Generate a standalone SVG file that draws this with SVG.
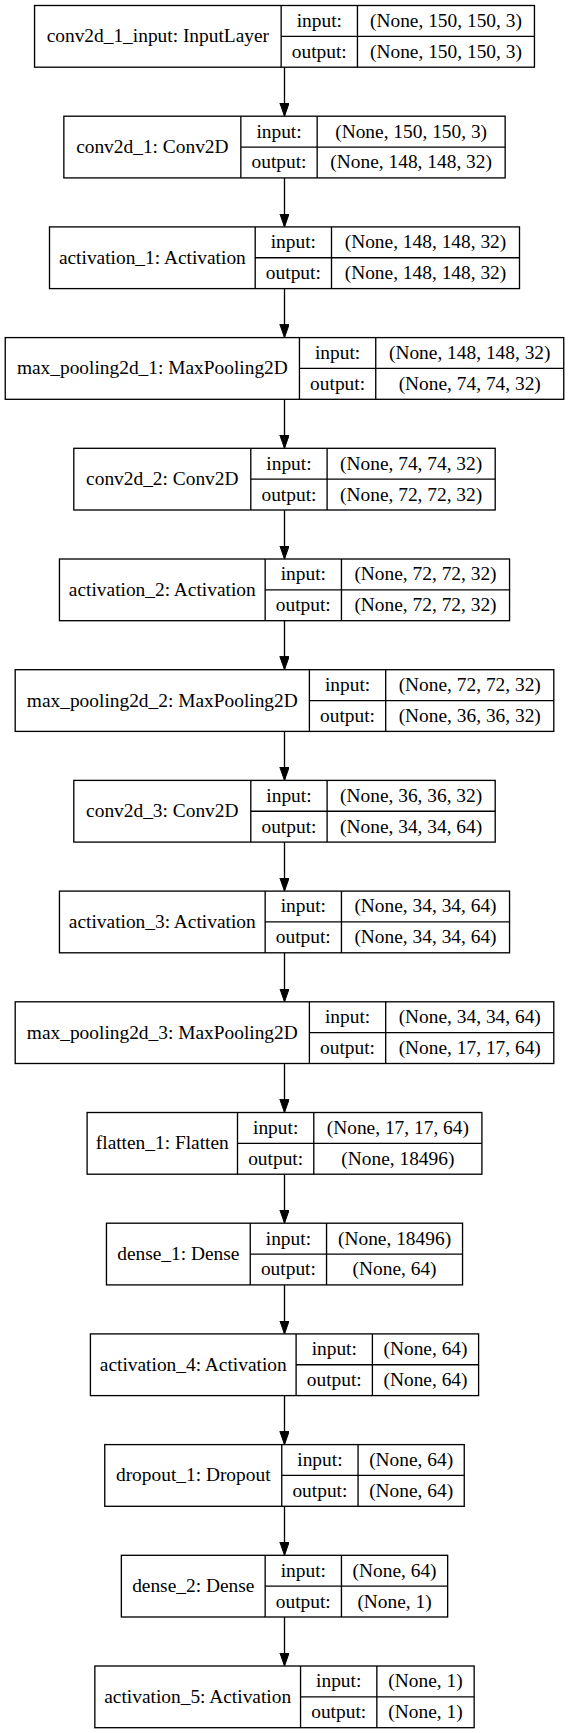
<svg xmlns="http://www.w3.org/2000/svg" width="569" height="1733" viewBox="0 0 569 1733">
<style>
.b{fill:#fff;stroke:#000;stroke-width:1.33}
.l{stroke:#000;stroke-width:1.33;fill:none}
text{font-family:"Liberation Serif","Times New Roman",serif;font-size:19.4px;fill:#000;text-anchor:middle}
.e{stroke:#000;stroke-width:1.33;fill:none;marker-end:url(#ah)}
</style>
<defs>
<marker id="ah" markerUnits="userSpaceOnUse" markerWidth="14" markerHeight="10" refX="13.3" refY="4.67" orient="auto">
<path d="M0,0 L13.3,4.67 L0,9.33 z" fill="#000" stroke="#000" stroke-width="1"/>
</marker>
</defs>
<rect width="569" height="1733" fill="#fff"/>
<g id="connectors">
<line class="e" x1="284.5" y1="67.2" x2="284.5" y2="116.2"/>
<line class="e" x1="284.5" y1="177.9" x2="284.5" y2="226.9"/>
<line class="e" x1="284.5" y1="288.6" x2="284.5" y2="337.6"/>
<line class="e" x1="284.5" y1="399.3" x2="284.5" y2="448.3"/>
<line class="e" x1="284.5" y1="510.0" x2="284.5" y2="559.0"/>
<line class="e" x1="284.5" y1="620.7" x2="284.5" y2="669.7"/>
<line class="e" x1="284.5" y1="731.4" x2="284.5" y2="780.4"/>
<line class="e" x1="284.5" y1="842.1" x2="284.5" y2="891.1"/>
<line class="e" x1="284.5" y1="952.8" x2="284.5" y2="1001.8"/>
<line class="e" x1="284.5" y1="1063.5" x2="284.5" y2="1112.5"/>
<line class="e" x1="284.5" y1="1174.2" x2="284.5" y2="1223.2"/>
<line class="e" x1="284.5" y1="1284.9" x2="284.5" y2="1333.9"/>
<line class="e" x1="284.5" y1="1395.6" x2="284.5" y2="1444.6"/>
<line class="e" x1="284.5" y1="1506.3" x2="284.5" y2="1555.3"/>
<line class="e" x1="284.5" y1="1617.0" x2="284.5" y2="1666.0"/>
</g>
<g id="conv2d_1_input" transform="translate(0,5.5)">
<rect class="b" x="34.55" y="0" width="499.9" height="61.7"/>
<path class="l" d="M281.15,0V61.7M357.45,0V61.7M281.15,30.85H534.45"/>
<text x="157.85" y="36.9">conv2d_1_input: InputLayer</text>
<text x="319.3" y="21.4">input:</text><text x="319.3" y="52.3">output:</text>
<text x="445.95" y="21.4">(None, 150, 150, 3)</text><text x="445.95" y="52.3">(None, 150, 150, 3)</text>
</g>
<g id="conv2d_1" transform="translate(0,116.2)">
<rect class="b" x="63.85" y="0" width="441.3" height="61.7"/>
<path class="l" d="M240.85,0V61.7M317.15,0V61.7M240.85,30.85H505.15"/>
<text x="152.35" y="36.9">conv2d_1: Conv2D</text>
<text x="279" y="21.4">input:</text><text x="279" y="52.3">output:</text>
<text x="411.15" y="21.4">(None, 150, 150, 3)</text><text x="411.15" y="52.3">(None, 148, 148, 32)</text>
</g>
<g id="activation_1" transform="translate(0,226.9)">
<rect class="b" x="49.5" y="0" width="470" height="61.7"/>
<path class="l" d="M255.2,0V61.7M331.5,0V61.7M255.2,30.85H519.5"/>
<text x="152.35" y="36.9">activation_1: Activation</text>
<text x="293.35" y="21.4">input:</text><text x="293.35" y="52.3">output:</text>
<text x="425.5" y="21.4">(None, 148, 148, 32)</text><text x="425.5" y="52.3">(None, 148, 148, 32)</text>
</g>
<g id="max_pooling2d_1" transform="translate(0,337.6)">
<rect class="b" x="5.25" y="0" width="558.5" height="61.7"/>
<path class="l" d="M299.45,0V61.7M375.75,0V61.7M299.45,30.85H563.75"/>
<text x="152.35" y="36.9">max_pooling2d_1: MaxPooling2D</text>
<text x="337.6" y="21.4">input:</text><text x="337.6" y="52.3">output:</text>
<text x="469.75" y="21.4">(None, 148, 148, 32)</text><text x="469.75" y="52.3">(None, 74, 74, 32)</text>
</g>
<g id="conv2d_2" transform="translate(0,448.3)">
<rect class="b" x="73.8" y="0" width="421.4" height="61.7"/>
<path class="l" d="M250.8,0V61.7M327.1,0V61.7M250.8,30.85H495.2"/>
<text x="162.3" y="36.9">conv2d_2: Conv2D</text>
<text x="288.95" y="21.4">input:</text><text x="288.95" y="52.3">output:</text>
<text x="411.15" y="21.4">(None, 74, 74, 32)</text><text x="411.15" y="52.3">(None, 72, 72, 32)</text>
</g>
<g id="activation_2" transform="translate(0,559.0)">
<rect class="b" x="59.45" y="0" width="450.1" height="61.7"/>
<path class="l" d="M265.15,0V61.7M341.45,0V61.7M265.15,30.85H509.55"/>
<text x="162.3" y="36.9">activation_2: Activation</text>
<text x="303.3" y="21.4">input:</text><text x="303.3" y="52.3">output:</text>
<text x="425.5" y="21.4">(None, 72, 72, 32)</text><text x="425.5" y="52.3">(None, 72, 72, 32)</text>
</g>
<g id="max_pooling2d_2" transform="translate(0,669.7)">
<rect class="b" x="15.2" y="0" width="538.6" height="61.7"/>
<path class="l" d="M309.4,0V61.7M385.7,0V61.7M309.4,30.85H553.8"/>
<text x="162.3" y="36.9">max_pooling2d_2: MaxPooling2D</text>
<text x="347.55" y="21.4">input:</text><text x="347.55" y="52.3">output:</text>
<text x="469.75" y="21.4">(None, 72, 72, 32)</text><text x="469.75" y="52.3">(None, 36, 36, 32)</text>
</g>
<g id="conv2d_3" transform="translate(0,780.4)">
<rect class="b" x="73.8" y="0" width="421.4" height="61.7"/>
<path class="l" d="M250.8,0V61.7M327.1,0V61.7M250.8,30.85H495.2"/>
<text x="162.3" y="36.9">conv2d_3: Conv2D</text>
<text x="288.95" y="21.4">input:</text><text x="288.95" y="52.3">output:</text>
<text x="411.15" y="21.4">(None, 36, 36, 32)</text><text x="411.15" y="52.3">(None, 34, 34, 64)</text>
</g>
<g id="activation_3" transform="translate(0,891.1)">
<rect class="b" x="59.45" y="0" width="450.1" height="61.7"/>
<path class="l" d="M265.15,0V61.7M341.45,0V61.7M265.15,30.85H509.55"/>
<text x="162.3" y="36.9">activation_3: Activation</text>
<text x="303.3" y="21.4">input:</text><text x="303.3" y="52.3">output:</text>
<text x="425.5" y="21.4">(None, 34, 34, 64)</text><text x="425.5" y="52.3">(None, 34, 34, 64)</text>
</g>
<g id="max_pooling2d_3" transform="translate(0,1001.8)">
<rect class="b" x="15.2" y="0" width="538.6" height="61.7"/>
<path class="l" d="M309.4,0V61.7M385.7,0V61.7M309.4,30.85H553.8"/>
<text x="162.3" y="36.9">max_pooling2d_3: MaxPooling2D</text>
<text x="347.55" y="21.4">input:</text><text x="347.55" y="52.3">output:</text>
<text x="469.75" y="21.4">(None, 34, 34, 64)</text><text x="469.75" y="52.3">(None, 17, 17, 64)</text>
</g>
<g id="flatten_1" transform="translate(0,1112.5)">
<rect class="b" x="87.1" y="0" width="394.8" height="61.7"/>
<path class="l" d="M237.5,0V61.7M313.8,0V61.7M237.5,30.85H481.9"/>
<text x="162.3" y="36.9">flatten_1: Flatten</text>
<text x="275.65" y="21.4">input:</text><text x="275.65" y="52.3">output:</text>
<text x="397.85" y="21.4">(None, 17, 17, 64)</text><text x="397.85" y="52.3">(None, 18496)</text>
</g>
<g id="dense_1" transform="translate(0,1223.2)">
<rect class="b" x="106.45" y="0" width="356.1" height="61.7"/>
<path class="l" d="M250.25,0V61.7M326.55,0V61.7M250.25,30.85H462.55"/>
<text x="178.35" y="36.9">dense_1: Dense</text>
<text x="288.4" y="21.4">input:</text><text x="288.4" y="52.3">output:</text>
<text x="394.55" y="21.4">(None, 18496)</text><text x="394.55" y="52.3">(None, 64)</text>
</g>
<g id="activation_4" transform="translate(0,1333.9)">
<rect class="b" x="90.4" y="0" width="388.2" height="61.7"/>
<path class="l" d="M296.1,0V61.7M372.4,0V61.7M296.1,30.85H478.6"/>
<text x="193.25" y="36.9">activation_4: Activation</text>
<text x="334.25" y="21.4">input:</text><text x="334.25" y="52.3">output:</text>
<text x="425.5" y="21.4">(None, 64)</text><text x="425.5" y="52.3">(None, 64)</text>
</g>
<g id="dropout_1" transform="translate(0,1444.6)">
<rect class="b" x="104.75" y="0" width="359.5" height="61.7"/>
<path class="l" d="M281.75,0V61.7M358.05,0V61.7M281.75,30.85H464.25"/>
<text x="193.25" y="36.9">dropout_1: Dropout</text>
<text x="319.9" y="21.4">input:</text><text x="319.9" y="52.3">output:</text>
<text x="411.15" y="21.4">(None, 64)</text><text x="411.15" y="52.3">(None, 64)</text>
</g>
<g id="dense_2" transform="translate(0,1555.3)">
<rect class="b" x="121.35" y="0" width="326.3" height="61.7"/>
<path class="l" d="M265.15,0V61.7M341.45,0V61.7M265.15,30.85H447.65"/>
<text x="193.25" y="36.9">dense_2: Dense</text>
<text x="303.3" y="21.4">input:</text><text x="303.3" y="52.3">output:</text>
<text x="394.55" y="21.4">(None, 64)</text><text x="394.55" y="52.3">(None, 1)</text>
</g>
<g id="activation_5" transform="translate(0,1666.0)">
<rect class="b" x="94.85" y="0" width="379.3" height="61.7"/>
<path class="l" d="M300.55,0V61.7M376.85,0V61.7M300.55,30.85H474.15"/>
<text x="197.7" y="36.9">activation_5: Activation</text>
<text x="338.7" y="21.4">input:</text><text x="338.7" y="52.3">output:</text>
<text x="425.5" y="21.4">(None, 1)</text><text x="425.5" y="52.3">(None, 1)</text>
</g>
</svg>
